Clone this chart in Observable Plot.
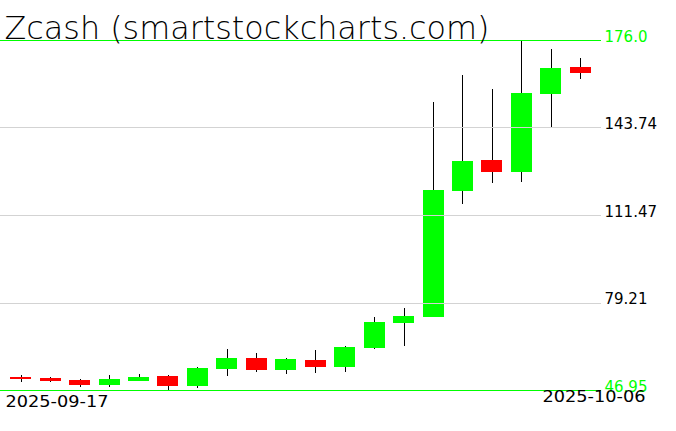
<!DOCTYPE html>
<html>
<head>
<meta charset="utf-8">
<script src="https://cdn.jsdelivr.net/npm/d3@7"></script>
<script src="https://cdn.jsdelivr.net/npm/@observablehq/plot@0.6"></script>
<style>
  html, body { margin: 0; padding: 0; background: #ffffff; }
  #chart { width: 676px; height: 431px; }
</style>
</head>
<body>
<div id="chart"></div>
<script>
const titleText = "Zcash (smartstockcharts.com)";
const dates = ["2025-09-17","2025-09-18","2025-09-19","2025-09-20","2025-09-21","2025-09-22","2025-09-23",
  "2025-09-24","2025-09-25","2025-09-26","2025-09-27","2025-09-28","2025-09-29","2025-09-30",
  "2025-10-01","2025-10-02","2025-10-03","2025-10-04","2025-10-05","2025-10-06"];
const opens  = [51.85, 51.37, 50.63, 48.90, 50.26, 52.11, 48.54, 54.80, 58.75, 54.43, 58.01, 55.54, 62.55, 71.65, 73.98, 120.43, 131.75, 127.44, 156.20, 166.04];
const highs  = [52.60, 51.85, 51.00, 52.50, 52.85, 52.60, 55.43, 62.07, 60.59, 58.60, 61.70, 63.10, 73.87, 77.18, 153.14, 163.10, 157.93, 176.00, 172.68, 169.36];
const lows   = [49.90, 49.90, 48.20, 48.20, 50.20, 46.95, 47.80, 52.20, 53.70, 52.96, 53.30, 53.70, 62.18, 63.28, 73.70, 115.64, 123.38, 123.75, 143.66, 161.73];
const closes = [51.10, 50.38, 48.90, 51.00, 51.74, 48.54, 55.06, 58.75, 54.43, 58.38, 55.54, 62.80, 72.02, 74.23, 120.69, 131.39, 127.44, 156.35, 165.68, 163.94];
const tickValues = [176.0, 143.74, 111.47, 79.21, 46.95];
const tickLabels = ["176.0", "143.74", "111.47", "79.21", "46.95"];

const candles = dates.map((d, i) => ({date: d, open: opens[i], high: highs[i], low: lows[i], close: closes[i]}));
const ticks = tickValues.map((v, i) => ({value: v, label: tickLabels[i], edge: i === 0 || i === tickValues.length - 1}));
const GREEN = "#00ff00", RED = "#ff0000";

const chart = Plot.plot({
  width: 676,
  height: 431,
  marginLeft: 0,
  marginRight: 75,
  marginTop: 40,
  marginBottom: 41,
  style: {background: "#ffffff", fontFamily: "DejaVu Sans", overflow: "visible"},
  x: {type: "band", domain: dates, paddingInner: 0.287, paddingOuter: 0.346, align: 0.5, round: false, axis: null},
  y: {domain: [tickValues[tickValues.length - 1], tickValues[0]], axis: null},
  color: {type: "identity"},
  marks: [
    Plot.ruleX(candles, {x: "date", y1: "low", y2: "high", stroke: "#000000", strokeWidth: 1, shapeRendering: "crispEdges"}),
    Plot.barY(candles, {x: "date", y1: "open", y2: "close", fill: d => d.close >= d.open ? GREEN : RED, inset: 0, shapeRendering: "crispEdges"}),
    Plot.ruleY(ticks.filter(t => !t.edge), {y: "value", stroke: "#d3d3d3", strokeWidth: 1, shapeRendering: "crispEdges"}),
    Plot.ruleY(ticks.filter(t => t.edge), {y: "value", stroke: GREEN, strokeWidth: 1, shapeRendering: "crispEdges"}),
    Plot.text(ticks, {y: "value", text: "label", frameAnchor: "right", textAnchor: "start", lineAnchor: "bottom",
      dx: 3, dy: 1, fontSize: 15, fill: d => d.edge ? GREEN : "#000000"}),
    Plot.text([dates[0]], {frameAnchor: "bottom-left", textAnchor: "start", lineAnchor: "bottom",
      dx: 5, dy: 16, fontSize: 15, fill: "#000000"}),
    Plot.text([dates[dates.length - 1]], {frameAnchor: "bottom-right", textAnchor: "end", lineAnchor: "bottom",
      dx: 44, dy: 11, fontSize: 15, fill: "#000000"}),
    Plot.text([titleText], {frameAnchor: "top-left", textAnchor: "start", lineAnchor: "bottom",
      dx: 4, dy: -2, fontSize: 32, fontWeight: 200, fontFamily: "'DejaVu Sans ExtraLight', 'DejaVu Sans'", fill: "#000000"})
  ]
});
// widen the date labels to the reference's wide lettering
d3.select(chart).selectAll("text")
  .filter(function() { return this.textContent === dates[0] || this.textContent === dates[dates.length - 1]; })
  .attr("textLength", 103)
  .attr("lengthAdjust", "spacingAndGlyphs");
d3.select(chart).selectAll("text")
  .filter(function() { return this.textContent === titleText; })
  .attr("textLength", 485)
  .attr("lengthAdjust", "spacingAndGlyphs");
document.getElementById("chart").appendChild(chart);
</script>
</body>
</html>
